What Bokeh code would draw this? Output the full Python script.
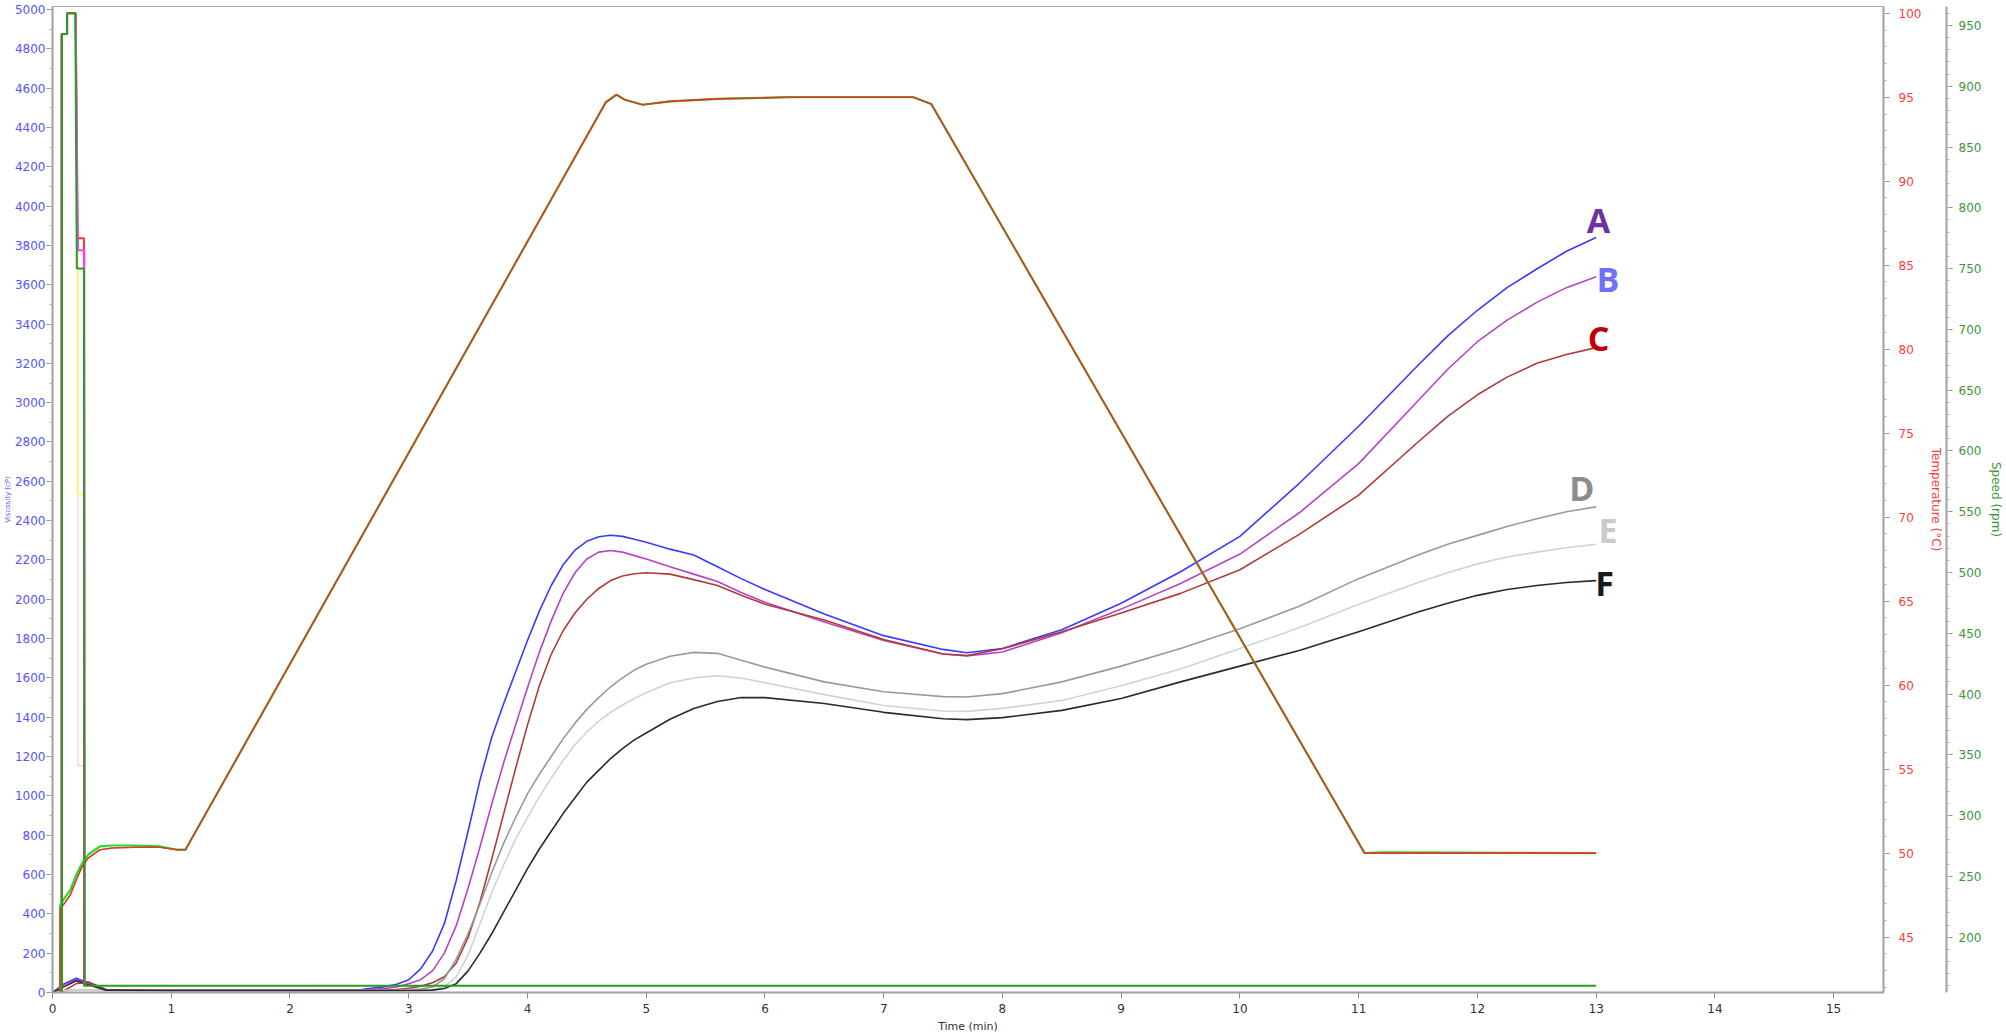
from bokeh.plotting import figure
from bokeh.models import Range1d, LinearAxis, SingleIntervalTicker, ColumnDataSource
from bokeh.core.properties import value
from bokeh.embed import file_html
from bokeh.resources import INLINE

# ---------------- data ----------------
time_min = [0, 0.1, 0.2, 0.3, 0.45, 1.0, 2.0, 2.6,
            2.8, 2.9, 3.0, 3.1, 3.2, 3.3, 3.4, 3.5, 3.6, 3.7, 3.8, 3.9, 4.0, 4.1, 4.2, 4.3,
            4.4, 4.5, 4.6, 4.7, 4.8, 4.9, 5.0,
            5.2, 5.4, 5.6, 5.8,
            6.0, 6.5, 7.0, 7.5, 7.7, 8.0, 8.5, 9.0, 9.5, 10.0, 10.5, 11.0, 11.5, 11.75,
            12.0, 12.25, 12.5, 12.75, 13.0]

visc_A = [0, 45, 72, 50, 15, 12, 12, 15,
          30, 42, 65, 120, 210, 350, 570, 820, 1080, 1300, 1470, 1630, 1790, 1940, 2070, 2175,
          2250, 2295, 2318, 2326, 2320, 2305, 2290,
          2255, 2225, 2165, 2105,
          2050, 1925, 1815, 1745, 1728, 1750, 1845, 1980, 2140, 2320, 2590, 2880, 3190, 3340,
          3470, 3585, 3680, 3770, 3840]
visc_B = [0, 40, 65, 45, 15, 12, 12, 12,
          20, 28, 45, 65, 110, 200, 340, 530, 740, 960, 1170, 1360, 1550, 1730, 1890, 2030,
          2135, 2205, 2240, 2248, 2240, 2222, 2205,
          2165, 2128, 2090, 2035,
          1985, 1885, 1790, 1722, 1712, 1732, 1830, 1950, 2080, 2230, 2440, 2690, 3010, 3170,
          3310, 3420, 3510, 3585, 3640]
visc_C = [0, 10, 45, 55, 15, 10, 10, 10,
          12, 15, 22, 32, 50, 80, 150, 280, 460, 680, 910, 1140, 1360, 1560, 1720, 1840,
          1930, 2000, 2055, 2095, 2118, 2130, 2135,
          2128, 2100, 2070, 2020,
          1975, 1895, 1795, 1722, 1714, 1748, 1835, 1930, 2030, 2150, 2330, 2530, 2800, 2930,
          3040, 3130, 3200, 3245, 3280]
visc_D = [0, 10, 12, 12, 10, 10, 10, 10,
          10, 10, 15, 18, 28, 70, 170, 300, 450, 610, 760, 890, 1010, 1110, 1200, 1290,
          1370, 1440, 1500, 1555, 1600, 1640, 1670,
          1710, 1730, 1725, 1690,
          1655, 1580, 1530, 1505, 1503, 1520, 1580, 1660, 1750, 1850, 1965, 2105, 2225, 2280,
          2325, 2370, 2410, 2445, 2470]
visc_E = [0, 10, 12, 12, 10, 10, 10, 10,
          10, 10, 12, 13, 15, 30, 80, 190, 350, 510, 650, 780, 890, 995, 1090, 1180,
          1260, 1325, 1380, 1425, 1462, 1495, 1525,
          1575, 1600, 1611, 1600,
          1575, 1515, 1460, 1432, 1430, 1445, 1485, 1560, 1645, 1750, 1855, 1975, 2085, 2135,
          2180, 2215, 2240, 2262, 2280]
visc_F = [0, 30, 60, 40, 12, 10, 10, 10,
          10, 10, 10, 11, 12, 20, 45, 110, 200, 300, 410, 520, 630, 730, 820, 910,
          990, 1070, 1130, 1190, 1240, 1285, 1320,
          1390, 1445, 1480, 1500,
          1500, 1470, 1425, 1392, 1388, 1398, 1435, 1495, 1580, 1660, 1740, 1835, 1935, 1980,
          2020, 2050, 2070, 2085, 2095]

series_names = ["A", "B", "C", "D", "E", "F"]
series_colors = ["#3a3aff", "#b445c4", "#b03a3a", "#9a9a9a", "#d2d2d2", "#2a2a2a"]
label_colors = ["#7030a0", "#7070ff", "#c00000", "#8c8c8c", "#cacaca", "#1a1a1a"]
label_time = [13.02, 13.1, 13.02, 12.88, 13.1, 13.07]
label_visc = [3930, 3630, 3330, 2565, 2350, 2083]

temp_time = [0.06, 0.065, 0.1, 0.15, 0.2, 0.25, 0.3, 0.4, 0.5, 0.7, 0.9, 1.05, 1.12,
             4.66, 4.75, 4.82, 4.97, 5.2, 5.6, 6.2, 7.25, 7.4, 11.05, 11.2, 13.0]
temp_green = [30, 46.9, 47.3, 47.8, 48.7, 49.4, 49.9, 50.4, 50.45, 50.45, 50.4, 50.2, 50.2,
              94.7, 95.15, 94.85, 94.55, 94.75, 94.9, 95.0, 95.0, 94.6, 50.0, 50.05, 50.0]
temp_red = [30, 46.7, 47.0, 47.5, 48.4, 49.2, 49.7, 50.2, 50.3, 50.35, 50.35, 50.2, 50.2,
            94.7, 95.15, 94.85, 94.55, 94.75, 94.9, 95.0, 95.0, 94.6, 50.0, 50.0, 50.0]

speed_time_green = [0.08, 0.08, 0.123, 0.123, 0.192, 0.205, 0.265, 0.27, 13.0]
speed_green = [0, 943, 943, 960, 960, 750, 750, 160, 160]
speed_time_red = [0.075, 0.075, 0.123, 0.123, 0.195, 0.21, 0.265, 0.265, 0.27]
speed_red = [0, 943, 943, 960, 960, 775, 775, 160, 160]
speed_time_mag = [0.078, 0.078, 0.123, 0.123, 0.195, 0.215, 0.268, 0.272]
speed_mag = [0, 943, 943, 960, 960, 765, 765, 160]
speed_time_pink = [0.2, 0.215, 0.215, 0.265, 0.27]
speed_pink = [960, 750, 341, 341, 160]
speed_time_yellow = [0.2, 0.21, 0.21, 0.265, 0.27]
speed_yellow = [960, 750, 564, 564, 160]

x_ticks_interval = 1

# ---------------- figure ----------------
FONT = "DejaVu Sans"
p = figure(width=2006, height=1035, x_range=Range1d(0, 15.42), y_range=Range1d(0, 5015),
           output_backend="svg", toolbar_location=None,
           min_border_left=52, min_border_right=100, min_border_top=6, min_border_bottom=42)
p.extra_y_ranges = {"temp": Range1d(41.7, 100.4), "speed": Range1d(154.5, 965.6)}
p.grid.visible = False
p.outline_line_color = "#a8a8a8"
p.outline_line_width = 1
p.background_fill_color = "white"
p.border_fill_color = "white"


def style_axis(ax, color, label_color):
    ax.axis_line_color = "#a0a0a0"
    ax.axis_line_width = 2
    ax.major_tick_line_color = "#909090"
    ax.minor_tick_line_color = "#b0b0b0"
    ax.major_tick_out = 6
    ax.major_tick_in = 0
    ax.minor_tick_out = 3
    ax.minor_tick_in = 0
    ax.major_label_text_color = color
    ax.major_label_text_font = FONT
    ax.major_label_text_font_size = "12px"
    ax.axis_label_text_color = label_color
    ax.axis_label_text_font = FONT
    ax.axis_label_text_font_style = "normal"
    ax.major_label_standoff = 2


yl = p.yaxis[0]
yl.ticker = SingleIntervalTicker(interval=200, num_minor_ticks=2)
style_axis(yl, "#5555ff", "#5555ff")
yl.axis_label = "Viscosity (cP)"
yl.axis_label_text_font_size = "7px"
yl.axis_label_standoff = 0
yl.major_label_standoff = 1

xb = p.xaxis[0]
xb.ticker = SingleIntervalTicker(interval=x_ticks_interval, num_minor_ticks=0)
style_axis(xb, "#333333", "#333333")
xb.minor_tick_line_color = None
xb.axis_label = "Time (min)"
xb.axis_label_text_font_size = "11px"
xb.axis_label_standoff = 4
xb.major_label_standoff = 5

temp_axis = LinearAxis(y_range_name="temp", axis_label="Temperature (°C)",
                       ticker=SingleIntervalTicker(interval=5, num_minor_ticks=5))
style_axis(temp_axis, "#ff3c3c", "#ff3c3c")
temp_axis.axis_label_text_font_size = "12px"
temp_axis.major_label_standoff = 9
speed_axis = LinearAxis(y_range_name="speed", axis_label="Speed (rpm)",
                        ticker=SingleIntervalTicker(interval=50, num_minor_ticks=5))
style_axis(speed_axis, "#3c963c", "#3c963c")
speed_axis.axis_label_text_font_size = "12px"
speed_axis.major_label_standoff = 6
for ax in (temp_axis, speed_axis):
    try:
        ax.axis_label_orientation = "vertical"
    except Exception:
        pass
p.add_layout(temp_axis, "right")
p.add_layout(speed_axis, "right")

# ---------------- glyphs ----------------
visc_series = [visc_A, visc_B, visc_C, visc_D, visc_E, visc_F]
for vals, col in zip(visc_series, series_colors):
    p.line(time_min, vals, line_color=col, line_width=1.6, line_join="round")

# speed traces (thin ones first)
p.line(speed_time_pink, speed_pink, y_range_name="speed", line_color="#ffc0c8", line_width=1)
p.line(speed_time_yellow, speed_yellow, y_range_name="speed", line_color="#ffff40", line_width=1.2)
p.line(speed_time_red, speed_red, y_range_name="speed", line_color="#ff3030", line_width=2)
p.line(speed_time_mag, speed_mag, y_range_name="speed", line_color="#ff40ff", line_width=2)

# temperature traces
p.line(temp_time, temp_green, y_range_name="temp", line_color="#22dd22", line_width=2.2)
p.line(temp_time, temp_red, y_range_name="temp", line_color="#ff3030", line_width=1.6)
p.line(temp_time, temp_red, y_range_name="temp", line_color="#8b5a2b", line_width=1.2, line_alpha=0.45)

p.line(speed_time_green, speed_green, y_range_name="speed", line_color="#22a022", line_width=2)

lab_src = ColumnDataSource(dict(x=label_time, y=label_visc, text=series_names, color=label_colors))
p.text(x="x", y="y", text="text", text_color="color", source=lab_src,
       text_font=value("Open Sans"), text_font_style="bold", text_font_size="34px",
       text_align="center", text_baseline="middle")

open("out.html", "w").write(file_html(p, INLINE))
